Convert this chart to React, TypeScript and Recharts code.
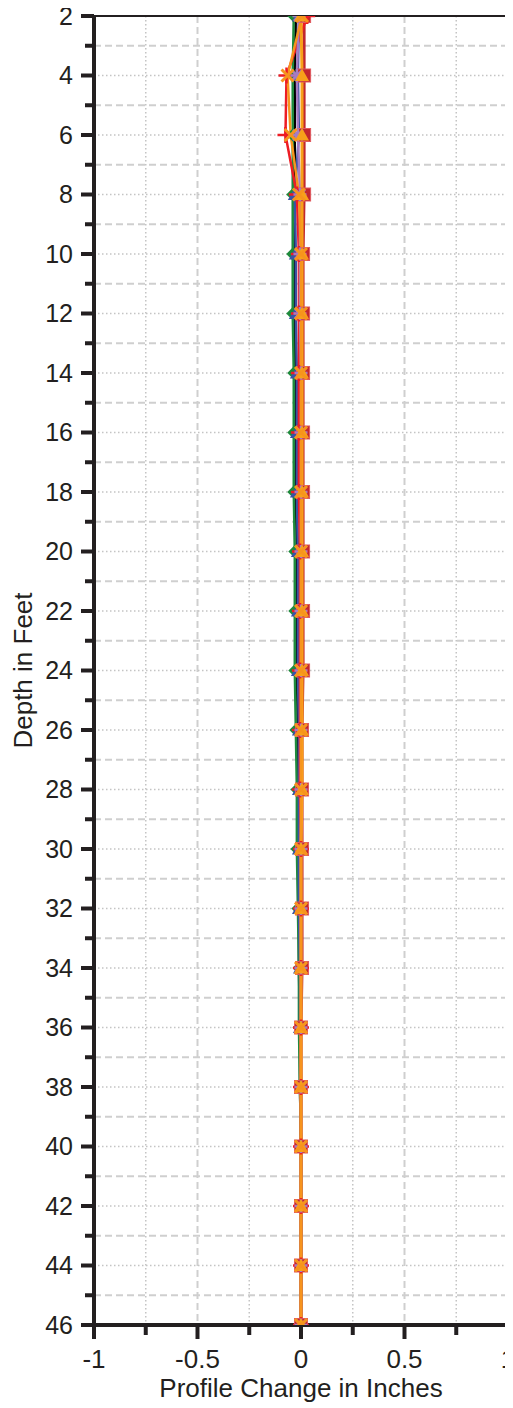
import React from 'react';
import { LineChart, Line, XAxis, YAxis, CartesianGrid, ReferenceLine, Label } from 'recharts';

const depths = [2, 4, 6, 8, 10, 12, 14, 16, 18, 20, 22, 24, 26, 28, 30, 32, 34, 36, 38, 40, 42, 44, 46];

const blackSeries = [-0.025, -0.03, -0.03, -0.03, -0.03, -0.03, -0.03, -0.03, -0.025, -0.02, -0.02, -0.02, -0.015, -0.015, -0.01, -0.01, -0.01, -0.005, -0.005, 0, 0, 0, 0];
const greenSeries = [-0.035, -0.04, -0.04, -0.04, -0.04, -0.04, -0.035, -0.035, -0.035, -0.03, -0.03, -0.03, -0.025, -0.02, -0.02, -0.015, -0.01, -0.01, -0.005, 0, 0, 0, 0];
const blueSeries = [-0.01, -0.015, -0.01, -0.03, -0.025, -0.025, -0.02, -0.02, -0.02, -0.015, -0.015, -0.015, -0.01, -0.01, -0.01, -0.01, -0.005, -0.005, 0, 0, 0, 0, 0];
const squareSeries = [0.015, 0.015, 0.015, 0.015, 0.01, 0.01, 0.01, 0.01, 0.01, 0.01, 0.01, 0.01, 0.005, 0.005, 0.005, 0.005, 0.005, 0, 0, 0, 0, 0, 0];
const crossSeries = [0.03, -0.07, -0.075, -0.02, -0.01, -0.01, -0.01, -0.01, -0.01, -0.005, -0.005, -0.005, -0.005, -0.005, 0, 0, 0, 0, 0, 0, 0, 0, 0];
const purpleSeries = [-0.01, -0.02, -0.015, -0.005, -0.005, -0.005, 0, 0, 0, 0, 0, 0, 0, 0, 0, 0, 0, 0, 0, 0, 0, 0, 0];
const orangeTriSeries = [0.0, 0.005, 0.005, 0.005, 0.005, 0.005, 0.005, 0.005, 0.005, 0.005, 0.005, 0.005, 0.005, 0.005, 0, 0, 0, 0, 0, 0, 0, 0, 0];
const orangeXSeries = [0.005, -0.065, -0.05, -0.01, 0, 0, 0, 0, 0, 0, 0, 0, 0, 0, 0, 0, 0, 0, 0, 0, 0, 0, 0];

const xTicks = [-1, -0.75, -0.5, -0.25, 0, 0.25, 0.5, 0.75, 1];
const yTicks = [2, 3, 4, 5, 6, 7, 8, 9, 10, 11, 12, 13, 14, 15, 16, 17, 18, 19, 20, 21, 22, 23, 24, 25, 26, 27, 28, 29, 30, 31, 32, 33, 34, 35, 36, 37, 38, 39, 40, 41, 42, 43, 44, 45, 46];
const yMinorGrid = [3, 5, 7, 9, 11, 13, 15, 17, 19, 21, 23, 25, 27, 29, 31, 33, 35, 37, 39, 41, 43, 45];
const yMajorGrid = [4, 6, 8, 10, 12, 14, 16, 18, 20, 22, 24, 26, 28, 30, 32, 34, 36, 38, 40, 42, 44];
const xDashedGrid = [-0.5, 0.5];
const xDottedGrid = [-0.75, -0.25, 0.25, 0.75];

const rows = depths.map((d, i) => ({
  depth: d,
  black: blackSeries[i],
  green: greenSeries[i],
  blue: blueSeries[i],
  square: squareSeries[i],
  cross: crossSeries[i],
  purple: purpleSeries[i],
  orangeTri: orangeTriSeries[i],
  orangeX: orangeXSeries[i],
}));

const FONT = '"Liberation Sans", Arial, Helvetica, sans-serif';
const INK = '#231f20';

function drawShape(shape: string, cx: number, cy: number, c: string) {
  switch (shape) {
    case 'diamond':
      return <path d={`M${cx},${cy - 6.5}L${cx + 6.5},${cy}L${cx},${cy + 6.5}L${cx - 6.5},${cy}Z`} fill={c} />;
    case 'triangle':
      return <path d={`M${cx},${cy - 7}L${cx + 7},${cy + 5.5}L${cx - 7},${cy + 5.5}Z`} fill={c} />;
    case 'square':
      return <rect x={cx - 6.5} y={cy - 6.5} width={13} height={13} fill={c} stroke="#e05a5f" strokeWidth={1} />;
    case 'plus':
      return (
        <g stroke={c} strokeWidth={2.5}>
          <line x1={cx - 8} x2={cx + 8} y1={cy} y2={cy} />
          <line x1={cx} x2={cx} y1={cy - 8} y2={cy + 8} />
        </g>
      );
    case 'star':
      return (
        <g stroke={c} strokeWidth={2.5}>
          <line x1={cx - 6.5} x2={cx + 6.5} y1={cy} y2={cy} />
          <line x1={cx} x2={cx} y1={cy - 6.5} y2={cy + 6.5} />
          <line x1={cx - 5} x2={cx + 5} y1={cy - 5} y2={cy + 5} />
          <line x1={cx - 5} x2={cx + 5} y1={cy + 5} y2={cy - 5} />
        </g>
      );
    case 'x':
      return (
        <g stroke={c} strokeWidth={3}>
          <line x1={cx - 6} x2={cx + 6} y1={cy - 6} y2={cy + 6} />
          <line x1={cx - 6} x2={cx + 6} y1={cy + 6} y2={cy - 6} />
        </g>
      );
    default:
      return null;
  }
}

function makeDot(shape: string, color: string) {
  return (p: any) => {
    const { cx, cy, index } = p;
    if (cx == null || cy == null) return <g key={`${shape}-${index}`} />;
    return <g key={`${shape}-${index}`}>{drawShape(shape, cx, cy, color)}</g>;
  };
}

const XTick = (props: any) => {
  const { x, y, payload } = props;
  const v = payload.value as number;
  const ay = y - 10;
  const major = Math.abs(v * 2 - Math.round(v * 2)) < 1e-6;
  return (
    <g>
      <line x1={x} x2={x} y1={ay} y2={ay + (major ? 14 : 10)} stroke={INK} strokeWidth={4} />
      {major && (
        <text x={x} y={ay + 43} textAnchor="middle" fontSize={26} fill={INK} fontFamily={FONT}>
          {String(v)}
        </text>
      )}
    </g>
  );
};

const YTick = (props: any) => {
  const { x, y, payload } = props;
  const v = payload.value as number;
  const ax = x + 10;
  const major = v % 2 === 0;
  return (
    <g>
      <line x1={ax - (major ? 13 : 9)} x2={ax} y1={y} y2={y} stroke={INK} strokeWidth={4} />
      {major && (
        <text x={ax - 21} y={y + 8.5} textAnchor="end" fontSize={25} fill={INK} fontFamily={FONT}>
          {String(v)}
        </text>
      )}
    </g>
  );
};

const YLabel = (props: any) => {
  const vb = props.viewBox || { y: 8, height: 1309 };
  const cy = vb.y + vb.height / 2;
  return (
    <text x={24} y={cy} transform={`rotate(-90 24 ${cy})`} textAnchor="middle" fontSize={26} fill={INK} fontFamily={FONT}>
      Depth in Feet
    </text>
  );
};

const XLabel = (props: any) => {
  const vb = props.viewBox || { x: 86, width: 414 };
  const cx = vb.x + vb.width / 2;
  return (
    <text x={cx} y={1389} textAnchor="middle" fontSize={26} fill={INK} fontFamily={FONT}>
      Profile Change in Inches
    </text>
  );
};

export default function App() {
  return (
    <div style={{ width: 505, height: 1400 }}>
      <LineChart
        width={505}
        height={1400}
        data={rows}
        layout="vertical"
        margin={{ top: 8, right: 5, left: 0, bottom: 0 }}
      >
        <CartesianGrid
          horizontalValues={yMinorGrid}
          verticalValues={xDashedGrid}
          stroke="#cfcfcf"
          strokeWidth={2}
          strokeDasharray="7 4"
        />
        <CartesianGrid
          horizontalValues={yMajorGrid}
          verticalValues={xDottedGrid}
          stroke="#c4c4c4"
          strokeWidth={1.5}
          strokeDasharray="1.5 2.5"
        />
        <XAxis
          type="number"
          domain={[-1, 1]}
          ticks={xTicks}
          interval={0}
          height={83}
          tickSize={10}
          tickMargin={0}
          tickLine={false}
          tick={<XTick />}
          axisLine={{ stroke: INK, strokeWidth: 4 }}
          allowDataOverflow
        >
          <Label content={<XLabel />} />
        </XAxis>
        <YAxis
          type="number"
          dataKey="depth"
          domain={[2, 46]}
          ticks={yTicks}
          interval={0}
          width={86}
          tickSize={10}
          tickMargin={0}
          tickLine={false}
          tick={<YTick />}
          axisLine={{ stroke: INK, strokeWidth: 4 }}
          allowDataOverflow
        >
          <Label content={<YLabel />} />
        </YAxis>
        <ReferenceLine y={2} stroke={INK} strokeWidth={2} />
        <ReferenceLine x={1} stroke={INK} strokeWidth={4} />
        <Line dataKey="black" stroke="#000000" strokeWidth={2.5} dot={false} isAnimationActive={false} />
        <Line dataKey="green" stroke="#1e8a3c" strokeWidth={2.5} dot={makeDot('diamond', '#1e8a3c')} isAnimationActive={false} />
        <Line dataKey="blue" stroke="#3953a4" strokeWidth={2.5} dot={makeDot('triangle', '#3953a4')} isAnimationActive={false} />
        <Line dataKey="square" stroke="#c1272d" strokeWidth={3} dot={makeDot('square', '#c1272d')} isAnimationActive={false} />
        <Line dataKey="cross" stroke="#ed1c24" strokeWidth={2.5} dot={makeDot('plus', '#ed1c24')} isAnimationActive={false} />
        <Line dataKey="purple" stroke="#a67cc2" strokeWidth={2.5} dot={makeDot('star', '#a67cc2')} isAnimationActive={false} />
        <Line dataKey="orangeTri" stroke="#f7a11a" strokeWidth={3} dot={makeDot('triangle', '#f7a11a')} isAnimationActive={false} />
        <Line dataKey="orangeX" stroke="#f7941d" strokeWidth={2.5} dot={makeDot('x', '#f7941d')} isAnimationActive={false} />
      </LineChart>
    </div>
  );
}
